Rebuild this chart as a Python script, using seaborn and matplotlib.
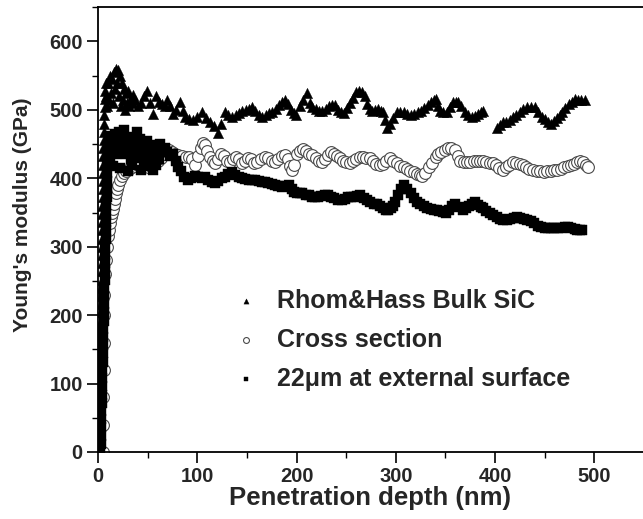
import numpy as np
import pandas as pd
import matplotlib
matplotlib.use("Agg")
import matplotlib.pyplot as plt
from matplotlib.ticker import MultipleLocator
import seaborn as sns

# ── Dados (profundidade em nm, módulo em GPa) ───────────────────────
tri_x = [1.0, 1.2, 1.4, 1.6, 1.8, 2.0, 2.1, 2.2, 2.3, 2.4, 2.5, 2.6, 2.7, 2.8, 2.9, 3.0, 3.1, 3.2,
         3.3, 3.4, 3.5, 3.6, 3.7, 3.8, 3.9, 4.0, 4.1, 4.2, 4.3, 4.4, 4.5, 4.6, 4.7, 4.8, 4.9, 5.0,
         5.2, 5.4, 5.6, 5.8, 6.0, 6.3, 6.6, 7, 7.5, 8, 8.5, 9, 10, 11, 12, 13, 14, 15, 16, 17, 18,
         19, 20, 21, 22, 23, 24, 25, 26, 27, 28, 29, 30, 31, 32, 34, 35, 37, 40, 43, 46, 49, 52, 55,
         58, 61, 64, 67, 70, 73, 76, 79, 83, 86, 88, 92, 96, 100, 105, 109, 113, 117, 121, 124, 128,
         131, 135, 139, 142, 145, 149, 152, 155, 158, 162, 165, 169, 172, 175, 179, 182, 185, 188,
         191, 194, 197, 199, 203, 207, 211, 214, 216, 220, 223, 226, 230, 233, 236, 239, 242, 245,
         248, 251, 254, 257, 260, 263, 266, 269, 271, 274, 276, 279, 282, 285, 287, 289, 291, 294,
         297, 301, 304, 308, 311, 315, 318, 322, 325, 328, 332, 335, 338, 340, 343, 345, 348, 352,
         355, 358, 361, 363, 366, 370, 373, 377, 380, 383, 386, 388, 402, 405, 408, 411, 415, 418,
         421, 425, 428, 432, 436, 440, 443, 447, 450, 453, 456, 459, 462, 465, 467, 470, 474, 477,
         481, 484, 487, 491]
tri_y = [0, 12, 24, 36, 48, 60, 72, 84, 96, 108, 120, 132, 144, 156, 168, 180, 192, 204, 216, 228,
         240, 252, 264, 276, 288, 300, 312, 324, 336, 348, 360, 372, 384, 396, 408, 420, 432, 444,
         456, 468, 480, 492, 504, 516, 528, 520, 540, 505, 540, 515, 550, 525, 545, 510, 555, 530,
         560, 540, 558, 520, 550, 505, 540, 515, 530, 500, 525, 510, 528, 505, 515, 510, 522, 514,
         505, 510, 520, 528, 510, 494, 521, 512, 508, 505, 514, 505, 494, 500, 511, 498, 489, 486,
         485, 490, 497, 488, 482, 476, 466, 480, 497, 492, 489, 493, 496, 499, 500, 502, 504, 498,
         492, 489, 493, 495, 497, 502, 507, 511, 514, 508, 500, 495, 492, 505, 515, 524, 510, 504,
         501, 499, 499, 502, 505, 507, 507, 500, 497, 495, 503, 510, 518, 526, 528, 526, 520, 509,
         502, 499, 500, 502, 499, 497, 485, 473, 480, 488, 497, 497, 497, 494, 492, 494, 497, 499,
         503, 507, 511, 515, 516, 505, 499, 497, 497, 504, 511, 511, 511, 505, 497, 493, 489, 491,
         494, 497, 499, 473, 478, 482, 483, 485, 489, 493, 497, 501, 504, 504, 504, 497, 489, 486,
         483, 480, 484, 488, 493, 497, 503, 509, 512, 516, 515, 514, 514]

cir_x = [5, 5.2, 5.4, 5.6, 5.8, 6, 6.5, 7, 8, 9, 10, 11, 12, 13, 14, 15, 16, 17, 18, 19, 20, 22, 24,
         26, 28, 31, 34, 37, 40, 43, 47, 50, 53, 56, 60, 63, 66, 69, 72, 75, 78, 81, 85, 89, 92, 95,
         98, 101, 104, 106, 108, 110, 113, 116, 118, 121, 124, 127, 130, 133, 136, 139, 142, 145,
         148, 151, 154, 157, 160, 164, 168, 171, 175, 178, 181, 185, 188, 191, 193, 195, 197, 200,
         203, 207, 210, 213, 216, 220, 223, 226, 229, 232, 235, 238, 241, 244, 247, 250, 254, 257,
         260, 264, 267, 270, 274, 277, 280, 284, 287, 290, 294, 297, 301, 304, 308, 311, 314, 318,
         321, 324, 326, 329, 333, 336, 340, 343, 346, 350, 353, 356, 360, 363, 365, 369, 372, 375,
         379, 382, 385, 388, 391, 395, 398, 401, 404, 408, 411, 414, 418, 421, 425, 428, 431, 434,
         438, 442, 445, 449, 452, 456, 459, 462, 466, 469, 473, 476, 479, 483, 486, 489, 492, 494]
cir_y = [0, 40, 80, 120, 160, 200, 230, 260, 280, 300, 315, 325, 335, 343, 349, 355, 362, 370, 378,
         385, 390, 398, 404, 408, 411, 414, 416, 418, 420, 420, 419, 417, 418, 422, 426, 430, 436, 440,
         441, 438, 435, 434, 432, 431, 431, 428, 419, 432, 445, 451, 448, 440, 431, 425, 422, 428, 435,
         432, 425, 424, 428, 431, 428, 422, 425, 429, 428, 422, 424, 428, 431, 430, 426, 424, 428, 432,
         434, 428, 418, 412, 420, 436, 440, 443, 440, 436, 434, 430, 426, 424, 428, 434, 438, 436, 432,
         429, 426, 424, 422, 425, 428, 431, 431, 430, 429, 425, 421, 419, 421, 426, 429, 426, 422, 418,
         416, 413, 411, 409, 407, 405, 404, 408, 416, 423, 431, 435, 438, 442, 445, 444, 441, 433, 426,
         424, 424, 424, 425, 425, 426, 426, 424, 423, 422, 419, 415, 412, 416, 420, 424, 423, 421, 419,
         416, 414, 412, 411, 410, 409, 410, 411, 412, 412, 414, 416, 418, 419, 421, 424, 426, 424, 420,
         416]

sq_x = [2.5, 2.7, 2.9, 3.1, 3.3, 3.5, 3.7, 3.9, 4.1, 4.3, 4.5, 4.7, 4.9, 5.1, 5.3, 5.5, 5.7, 5.9,
        6.1, 6.3, 6.5, 6.7, 6.9, 7.1, 7.3, 7.5, 7.7, 7.9, 8.1, 8.3, 8.5, 8.7, 8.9, 9.1, 9.3, 9.5,
        9.8, 10, 11, 12, 13, 14, 15, 16, 17, 18, 19, 20, 21, 22, 23, 24, 25, 26, 27, 28, 29, 30, 31,
        32, 33, 34, 35, 36, 37, 39, 40, 41, 42, 43, 44, 45, 46, 47, 48, 49, 50, 51, 52, 53, 54, 55,
        56, 58, 59, 61, 62, 64, 67, 70, 73, 76, 79, 81, 84, 87, 91, 94, 98, 101, 105, 108, 111, 115,
        118, 121, 125, 128, 131, 135, 138, 142, 145, 148, 152, 155, 158, 162, 165, 168, 171, 175,
        178, 181, 185, 188, 192, 195, 197, 200, 203, 206, 210, 213, 216, 219, 222, 225, 229, 232,
        235, 238, 242, 246, 249, 252, 255, 258, 261, 264, 268, 271, 274, 278, 281, 284, 287, 290,
        292, 295, 297, 299, 302, 305, 308, 311, 315, 318, 321, 324, 328, 331, 335, 338, 341, 344,
        348, 351, 354, 357, 360, 364, 368, 371, 374, 377, 380, 383, 386, 388, 391, 395, 398, 402,
        405, 408, 412, 415, 419, 422, 425, 429, 432, 436, 439, 443, 446, 450, 453, 456, 459, 463,
        466, 470, 473, 476, 480, 483, 486, 488]
sq_y = [0, 12, 24, 36, 48, 60, 72, 84, 96, 108, 120, 132, 144, 156, 168, 180, 192, 204, 216, 228, 240,
        252, 264, 276, 288, 300, 312, 324, 336, 348, 360, 372, 384, 396, 408, 420, 432, 445, 455, 430,
        462, 445, 418, 458, 465, 435, 450, 440, 468, 415, 455, 462, 440, 470, 450, 435, 458, 410, 445,
        450, 428, 420, 460, 455, 440, 467, 450, 430, 458, 412, 440, 448, 420, 425, 452, 455, 432, 418,
        448, 445, 425, 412, 440, 420, 445, 428, 450, 440, 445, 438, 432, 436, 425, 416, 410, 402, 397,
        400, 404, 402, 400, 402, 398, 395, 393, 396, 400, 402, 406, 409, 405, 402, 400, 399, 398, 397,
        397, 396, 395, 394, 393, 391, 390, 389, 387, 389, 390, 385, 380, 379, 378, 378, 376, 375, 373,
        372, 373, 374, 375, 375, 373, 371, 369, 368, 370, 372, 372, 373, 374, 375, 371, 368, 365, 363,
        362, 360, 357, 354, 353, 356, 360, 365, 375, 385, 390, 384, 378, 371, 365, 362, 359, 356, 355,
        354, 353, 352, 351, 350, 354, 359, 363, 358, 353, 356, 360, 363, 365, 361, 358, 356, 352, 349,
        346, 343, 341, 339, 339, 340, 342, 343, 342, 340, 339, 337, 334, 331, 329, 328, 327, 327, 327,
        327, 328, 329, 329, 327, 326, 325, 324, 324]

labels = ["Rhom&Hass Bulk SiC", "Cross section", "22\u03bcm at external surface"]

df_tri = pd.DataFrame({"x": tri_x, "y": tri_y})
df_cir = pd.DataFrame({"x": cir_x, "y": cir_y})
df_sq = pd.DataFrame({"x": sq_x, "y": sq_y})

sns.set_style("ticks")
plt.rcParams["font.family"] = ["Liberation Sans", "DejaVu Sans"]
plt.rcParams["font.weight"] = "bold"

fig = plt.figure(figsize=(6.43, 5.19), dpi=100)
ax = fig.add_axes([0.1524, 0.1291, 0.8476, 0.8569])

# círculos por baixo, quadrados e triângulos por cima
sns.scatterplot(data=df_cir, x="x", y="y", marker="o", s=72, facecolor="white",
                edgecolor="#4a4a4a", linewidth=0.8, ax=ax, label=labels[1], zorder=2)
sns.scatterplot(data=df_sq, x="x", y="y", marker="s", s=44, color="black",
                edgecolor="black", linewidth=0.3, ax=ax, label=labels[2], zorder=3)
sns.scatterplot(data=df_tri, x="x", y="y", marker="^", s=55, color="black",
                edgecolor="black", linewidth=0.3, ax=ax, label=labels[0], zorder=4)

ax.set_xlim(0, 549)
ax.set_ylim(0, 650)
ax.xaxis.set_major_locator(MultipleLocator(100))
ax.xaxis.set_minor_locator(MultipleLocator(50))
ax.yaxis.set_major_locator(MultipleLocator(100))
ax.yaxis.set_minor_locator(MultipleLocator(50))

for s in ["left", "bottom", "top"]:
    ax.spines[s].set_linewidth(1.3)
    ax.spines[s].set_color("black")
ax.spines["right"].set_visible(False)

ax.tick_params(axis="both", which="major", direction="out", length=8, width=1.2,
               labelsize=14.5, color="black", pad=3)
ax.tick_params(axis="both", which="minor", direction="out", length=4.5, width=1.0, color="black")
for lab in ax.get_xticklabels() + ax.get_yticklabels():
    lab.set_fontweight("bold")

ax.set_xlabel("Penetration depth (nm)", fontsize=18.5, fontweight="bold", labelpad=0)
ax.set_ylabel("Young's modulus (GPa)", fontsize=15, fontweight="bold")
ax.yaxis.set_label_coords(-0.122, 0.533)

handles, labs = ax.get_legend_handles_labels()
order = [labs.index(l) for l in labels]
leg = ax.legend([handles[i] for i in order], [labs[i] for i in order],
                loc="upper left", bbox_to_anchor=(0.328, 0.487), bbox_transform=fig.transFigure,
                frameon=False, fontsize=18, markerscale=0.5, handletextpad=0.75,
                labelspacing=0.6, handlelength=1.0)
for t in leg.get_texts():
    t.set_fontweight("bold")

plt.savefig("out.png", dpi=100)
